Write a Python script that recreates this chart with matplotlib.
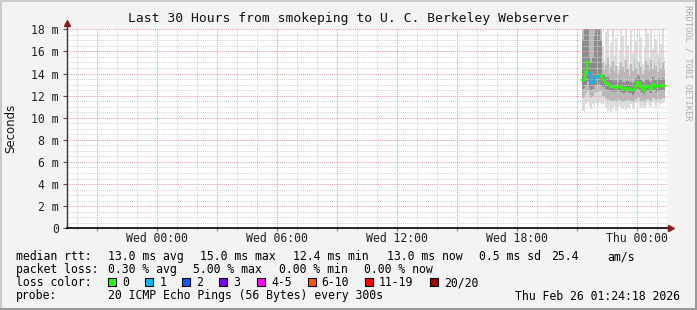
import numpy as np
import matplotlib
matplotlib.use('Agg')
import matplotlib.pyplot as plt
from matplotlib.patches import Rectangle

W, H = 697, 310
MONO = 'DejaVu Sans Mono'

# time axis: hours relative to Wed 00:00
x_start, x_end = -4.5, 25.5
tick_hours = [0, 6, 12, 18, 24]
tick_labels = ['Wed 00:00', 'Wed 06:00', 'Wed 12:00', 'Wed 18:00', 'Thu 00:00']
y_ticks = [0, 2, 4, 6, 8, 10, 12, 14, 16, 18]
y_labels = ['0', '2 m', '4 m', '6 m', '8 m', '10 m', '12 m', '14 m', '16 m', '18 m']

# 5 minute samples, first one at Wed 21:15
t_first = 21.25
step = 5 / 60.0

median = [13.4, 13.4, 14.1, 15.0, 14.05, 13.15, 13.2, 13.7, 13.7, 13.75, 13.85, 13.8,
          13.45, 13.4, 13.1, 13.05, 12.95, 12.8, 12.8, 12.75, 12.7, 12.75,
          12.85, 12.8, 12.6, 12.5, 12.65, 12.65, 12.6, 12.55, 12.5, 12.55,
          12.9, 13.25, 13.1, 12.75, 12.55, 12.45, 12.8, 12.9, 12.7, 12.6,
          13.05, 12.95, 12.75, 12.85, 12.9, 12.85, 12.95, 12.9]
loss = [0, 0, 0, 0, 1, 1, 1, 1, 1, 1, 0, 0] + [0] * 38

smoke_lo = [10.6, 10.5, 11.2, 11.4, 11.0, 10.8, 11.2, 11.0, 11.3, 11.1, 11.4, 11.3,
            11.2, 11.5, 10.9, 10.6, 11.0, 10.5, 10.8, 11.1, 10.6, 11.0,
            11.2, 10.9, 10.8, 11.1, 10.7, 11.0, 10.9, 11.2, 10.8, 11.0,
            11.3, 11.4, 11.1, 10.9, 11.0, 10.8, 11.1, 11.3, 11.0, 11.1,
            11.4, 11.2, 11.0, 11.3, 11.1, 11.2, 11.3, 11.4]
smoke_p10 = [11.8, 11.9, 12.2, 12.4, 12.1, 11.8, 12.0, 12.2, 12.3, 12.3, 12.5, 12.4,
             12.0, 12.0, 11.8, 11.6, 11.7, 11.5, 11.5, 11.6, 11.4, 11.6,
             11.6, 11.5, 11.4, 11.5, 11.5, 11.6, 11.4, 11.5, 11.4, 11.5,
             11.7, 11.9, 11.8, 11.5, 11.5, 11.3, 11.6, 11.7, 11.6, 11.5,
             11.8, 11.8, 11.6, 11.7, 11.6, 11.7, 11.8, 11.7]
smoke_p25 = [12.6, 12.7, 13.0, 13.3, 12.8, 12.5, 12.6, 12.9, 13.0, 13.0, 13.1, 13.0,
             12.8, 12.8, 12.6, 12.5, 12.5, 12.4, 12.3, 12.4, 12.3, 12.4,
             12.4, 12.3, 12.2, 12.2, 12.3, 12.3, 12.2, 12.2, 12.1, 12.2,
             12.4, 12.6, 12.5, 12.3, 12.2, 12.1, 12.3, 12.4, 12.3, 12.2,
             12.5, 12.5, 12.3, 12.4, 12.4, 12.4, 12.5, 12.4]
smoke_p75 = [17.0, 19.0, 18.5, 20.0, 15.5, 15.0, 15.5, 17.5, 19.0, 20.0, 18.0, 17.0,
             14.0, 13.9, 13.7, 13.7, 13.5, 13.4, 13.5, 13.3, 13.4, 13.2,
             13.5, 13.4, 13.2, 13.1, 13.3, 13.3, 13.2, 13.2, 13.1, 13.3,
             13.6, 13.9, 13.7, 13.4, 13.2, 13.1, 13.5, 13.5, 13.3, 13.2,
             13.7, 13.5, 13.4, 13.5, 13.6, 13.4, 13.6, 13.5]
smoke_p90 = [30, 30, 30, 30, 30, 30, 22, 30, 30, 30, 30, 25,
             15.0, 14.3, 14.8, 15.4, 14.0, 14.6, 15.1, 14.2, 14.7, 13.9,
             14.3, 15.0, 14.6, 14.1, 15.2, 14.4, 13.8, 14.9, 14.2, 15.3,
             14.5, 14.0, 15.0, 14.6, 13.9, 14.3, 15.1, 14.8, 14.2, 15.2,
             14.4, 15.0, 14.7, 14.1, 15.3, 14.5, 15.0, 14.3]
smoke_hi = [30] * 12 + [
            16.5, 15.2, 17.8, 18.2, 14.9, 16.8, 18.2, 15.6, 17.2, 14.7,
            16.1, 18.2, 17.4, 15.3, 18.2, 16.6, 14.8, 17.9, 15.9, 18.2,
            16.9, 15.1, 18.2, 17.3, 14.9, 16.4, 18.2, 17.7, 15.5, 18.2,
            16.2, 18.2, 17.1, 15.8, 18.2, 16.7, 18.2, 15.4]

loss_names = ['0', '1', '2', '3', '4-5', '6-10', '11-19', '20/20']
loss_colors = ['#26ff00', '#00b8ff', '#0059ff', '#7e00ff', '#ff00ff', '#ff5500', '#ff0000', '#a10000']

rtt_stats = ['13.0 ms avg', '15.0 ms max', '12.4 ms min', '13.0 ms now', '0.5 ms sd', '25.4', 'am/s']
loss_stats = ['0.30 % avg', '5.00 % max', '0.00 % min', '0.00 % now']


def fx(px):
    return px / W


def fy(py):
    return 1 - py / H


fig = plt.figure(figsize=(W / 100, H / 100), dpi=100, facecolor='#f3f3f3')

# 3d frame like rrdtool
fig.add_artist(Rectangle((0, fy(2)), 1, 2 / H, transform=fig.transFigure, color='#cbcbcb', lw=0))
fig.add_artist(Rectangle((0, 0), 2 / W, 1, transform=fig.transFigure, color='#cbcbcb', lw=0))
fig.add_artist(Rectangle((0, 0), 1, 2 / H, transform=fig.transFigure, color='#999999', lw=0))
fig.add_artist(Rectangle((fx(W - 2), 0), 2 / W, 1, transform=fig.transFigure, color='#999999', lw=0))

ax = fig.add_axes([fx(67), fy(228.3), 600 / W, 199 / H])
ax.set_facecolor('white')
ax.set_xlim(x_start, x_end)
ax.set_ylim(0, 18)

n = len(median)
edges = t_first + step * np.arange(n + 1)

# smoke, outer to inner
ax.stairs(smoke_hi, edges, baseline=smoke_lo, fill=True, color='#dddddd', lw=0, zorder=1)
ax.stairs(smoke_p90, edges, baseline=smoke_p10, fill=True, color='#b9b9b9', lw=0, zorder=1.1)
ax.stairs(smoke_p75, edges, baseline=smoke_p25, fill=True, color='#8c8c8c', lw=0, zorder=1.2)

# median coloured by loss
med = np.array(median, dtype=float)
ls_ = np.array(loss)
for k, c in enumerate(loss_colors):
    y = np.where(ls_ == k, med, np.nan)
    if np.all(np.isnan(y)):
        continue
    ax.step(edges, np.append(y, np.nan), where='post', color=c, lw=1.5, zorder=4)

# grid
ax.set_xticks(np.arange(-3, 25.5, 3))
ax.set_xticks(np.arange(-4, 25.5, 1), minor=True)
ax.set_xticklabels([tick_labels[tick_hours.index(int(h))] if int(h) in tick_hours else ''
                    for h in np.arange(-3, 25.5, 3)])
ax.set_yticks(y_ticks)
ax.set_yticklabels(y_labels)
ax.set_yticks(np.arange(0, 18.01, 0.5), minor=True)
ax.set_axisbelow(False)
ax.grid(which='minor', color='#d4d4d4', lw=0.75, ls=(0, (1, 1)), zorder=3)
ax.grid(which='major', color='#e9a0a0', lw=0.75, ls=(0, (1, 1)), zorder=3)

for s in ax.spines.values():
    s.set_visible(False)
ax.tick_params(axis='both', which='both', labelsize=8.3, colors='#222222')
ax.tick_params(axis='y', which='major', length=3, width=0.8, pad=3, color='#555555')
ax.tick_params(axis='y', which='minor', length=0)
ax.tick_params(axis='x', which='major', length=2, width=0.8, pad=1, color='#e06060')
ax.tick_params(axis='x', which='minor', length=1.5, width=0.6, color='#bbbbbb')
for lab in ax.get_xticklabels() + ax.get_yticklabels():
    lab.set_fontfamily(MONO)

# axes with arrows
ax.plot([0, 0], [0, 1.025], transform=ax.transAxes, color='#333333', lw=1, clip_on=False, zorder=5)
ax.plot([0, 1.003], [0, 0], transform=ax.transAxes, color='black', lw=1.2, clip_on=False, zorder=5)
ax.plot([0], [1.03], transform=ax.transAxes, marker='^', ms=5, color='#8b1a1a', mec='#8b1a1a',
        clip_on=False, zorder=6)
ax.plot([1.007], [0], transform=ax.transAxes, marker='>', ms=5, color='#8b1a1a', mec='#8b1a1a',
        clip_on=False, zorder=6)

fig.text(fx(348), fy(22), 'Last 30 Hours from smokeping to U. C. Berkeley Webserver',
         ha='center', va='baseline', fontsize=9.4, family=MONO, color='#111111')
fig.text(fx(11), fy(128), 'Seconds', rotation=90, ha='center', va='center',
         fontsize=8.5, family='DejaVu Sans', color='#111111')
fig.text(fx(688), fy(5), 'RRDTOOL / TOBI OETIKER', rotation=270, ha='center', va='top',
         fontsize=6.3, family=MONO, color='#aaaaaa')

# legend rows (baseline positions)
row_y = [260, 273, 286, 299.5]
fs = 8.3


def legend_text(xp, yp, s, **kw):
    fig.text(fx(xp), fy(yp), s, va='baseline', fontsize=fs, family=MONO, **kw)


legend_text(16, row_y[0], 'median rtt:')
for xp, s in zip([107.6, 200, 293, 387, 479, 551, 607.6], rtt_stats):
    legend_text(xp, row_y[0], s)

legend_text(16, row_y[1], 'packet loss:')
for xp, s in zip([107.6, 193, 279, 364], loss_stats):
    legend_text(xp, row_y[1], s)

legend_text(16, row_y[2], 'loss color:')
box_x = [108, 145.3, 182, 219, 257, 307.6, 365, 430]
for bx, name, c in zip(box_x, loss_names, loss_colors):
    fig.add_artist(Rectangle((fx(bx), fy(row_y[2])), 8 / W, 8 / H, transform=fig.transFigure,
                             facecolor=c, edgecolor='black', lw=0.8))
    legend_text(bx + 14, row_y[2], name)

legend_text(16, row_y[3], 'probe:')
legend_text(107.6, row_y[3], '20 ICMP Echo Pings (56 Bytes) every 300s')
legend_text(680, row_y[3], 'Thu Feb 26 01:24:18 2026', ha='right')

fig.savefig('out.png', dpi=100, facecolor=fig.get_facecolor())
